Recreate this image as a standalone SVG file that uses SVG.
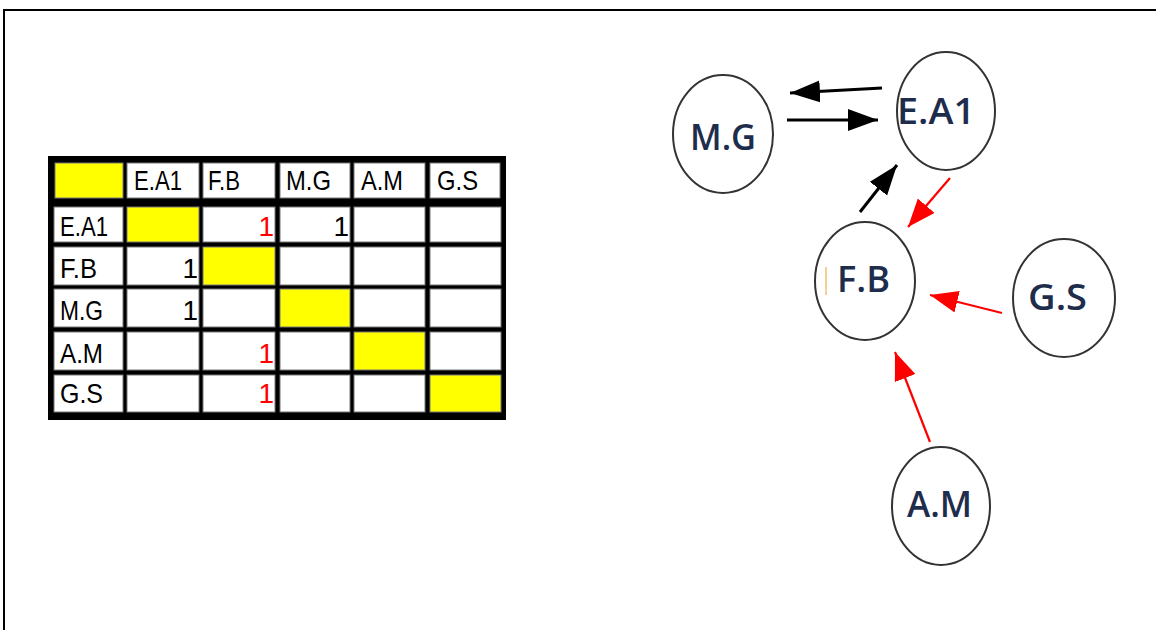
<svg xmlns="http://www.w3.org/2000/svg" width="1156" height="630" viewBox="0 0 1156 630">
<style>
.cell{fill:#ffffff;stroke:#777;stroke-width:1}
.yel{fill:#ffff00;stroke:#777;stroke-width:1}
.tt{font-family:"Liberation Sans",Arial,sans-serif;font-size:28px;fill:#000}
.red{fill:#ff0000}
.node ellipse{fill:#ffffff;stroke:#333;stroke-width:2}
.node text{font-family:"Open Sans","Noto Sans",sans-serif;font-size:36px;font-weight:600;fill:#1f2d4d}
.blk{stroke:#000;stroke-width:3;fill:none}
.rd{stroke:#ff0000;stroke-width:2.2;fill:none}
</style>
<defs>
<marker id="ab" markerUnits="userSpaceOnUse" markerWidth="32" markerHeight="24" refX="30" refY="11" orient="auto"><path d="M0,0 L30,11 L0,22 z" fill="#000"/></marker>
<marker id="ar" markerUnits="userSpaceOnUse" markerWidth="32" markerHeight="24" refX="28" refY="11" orient="auto"><path d="M0,0 L28,11 L0,22 z" fill="#ff0000"/></marker>
</defs>
<rect width="1156" height="630" fill="#fff"/>
<!-- frame -->
<path d="M4,630 V10 H1156" fill="none" stroke="#000" stroke-width="2"/>
<!-- table -->
<g id="table">
<rect x="48" y="156" width="458" height="264" fill="#000"/>
<!-- header row -->
<rect class="yel" x="55" y="163" width="68" height="35"/>
<rect class="cell" x="127" y="163" width="72" height="35"/>
<rect class="cell" x="203" y="163" width="72" height="35"/>
<rect class="cell" x="280" y="163" width="70" height="35"/>
<rect class="cell" x="354" y="163" width="71" height="35"/>
<rect class="cell" x="430" y="163" width="70" height="35"/>
<!-- E.A1 row -->
<rect class="cell" x="54" y="207" width="69" height="35"/>
<rect class="yel" x="127" y="207" width="72" height="35"/>
<rect class="cell" x="203" y="207" width="72" height="35"/>
<rect class="cell" x="280" y="207" width="70" height="35"/>
<rect class="cell" x="354" y="207" width="71" height="35"/>
<rect class="cell" x="430" y="207" width="71" height="35"/>
<!-- F.B row -->
<rect class="cell" x="54" y="247" width="69" height="38"/>
<rect class="cell" x="127" y="247" width="72" height="38"/>
<rect class="yel" x="203" y="247" width="72" height="38"/>
<rect class="cell" x="280" y="247" width="70" height="38"/>
<rect class="cell" x="354" y="247" width="71" height="38"/>
<rect class="cell" x="430" y="247" width="71" height="38"/>
<!-- M.G row -->
<rect class="cell" x="54" y="289" width="69" height="38"/>
<rect class="cell" x="127" y="289" width="72" height="38"/>
<rect class="cell" x="203" y="289" width="72" height="38"/>
<rect class="yel" x="280" y="289" width="70" height="38"/>
<rect class="cell" x="354" y="289" width="71" height="38"/>
<rect class="cell" x="430" y="289" width="71" height="38"/>
<!-- A.M row -->
<rect class="cell" x="54" y="332" width="69" height="38"/>
<rect class="cell" x="127" y="332" width="72" height="38"/>
<rect class="cell" x="203" y="332" width="72" height="38"/>
<rect class="cell" x="280" y="332" width="70" height="38"/>
<rect class="yel" x="354" y="332" width="71" height="38"/>
<rect class="cell" x="430" y="332" width="71" height="38"/>
<!-- G.S row -->
<rect class="cell" x="54" y="375" width="69" height="37"/>
<rect class="cell" x="127" y="375" width="72" height="37"/>
<rect class="cell" x="203" y="375" width="72" height="37"/>
<rect class="cell" x="280" y="375" width="70" height="37"/>
<rect class="cell" x="354" y="375" width="71" height="37"/>
<rect class="yel" x="430" y="375" width="71" height="37"/>
<!-- texts -->
<text class="tt" x="134" y="190" textLength="48" lengthAdjust="spacingAndGlyphs">E.A1</text>
<text class="tt" x="208" y="190" textLength="32" lengthAdjust="spacingAndGlyphs">F.B</text>
<text class="tt" x="286" y="190" textLength="45" lengthAdjust="spacingAndGlyphs">M.G</text>
<text class="tt" x="361" y="190" textLength="42" lengthAdjust="spacingAndGlyphs">A.M</text>
<text class="tt" x="437" y="190" textLength="41" lengthAdjust="spacingAndGlyphs">G.S</text>
<text class="tt" x="60" y="236" textLength="48" lengthAdjust="spacingAndGlyphs">E.A1</text>
<text class="tt" x="60" y="278" textLength="37" lengthAdjust="spacingAndGlyphs">F.B</text>
<text class="tt" x="60" y="320" textLength="43" lengthAdjust="spacingAndGlyphs">M.G</text>
<text class="tt" x="60" y="363" textLength="43" lengthAdjust="spacingAndGlyphs">A.M</text>
<text class="tt" x="60" y="403" textLength="43" lengthAdjust="spacingAndGlyphs">G.S</text>
<text class="tt red" x="274" y="236" text-anchor="end">1</text>
<text class="tt" x="349" y="236" text-anchor="end">1</text>
<text class="tt" x="198" y="278" text-anchor="end">1</text>
<text class="tt" x="198" y="320" text-anchor="end">1</text>
<text class="tt red" x="274" y="363" text-anchor="end">1</text>
<text class="tt red" x="274" y="403" text-anchor="end">1</text>
</g>
<!-- connectors -->
<g id="connectors">
<line class="blk" x1="882" y1="88" x2="790" y2="93" marker-end="url(#ab)"/>
<line class="blk" x1="787" y1="120" x2="878" y2="120" marker-end="url(#ab)"/>
<line class="blk" x1="860" y1="212" x2="897" y2="165" marker-end="url(#ab)"/>
<line class="rd" x1="950" y1="178" x2="908" y2="227" marker-end="url(#ar)"/>
<line class="rd" x1="1002" y1="313" x2="930" y2="295" marker-end="url(#ar)"/>
<line class="rd" x1="930" y1="442" x2="895" y2="352" marker-end="url(#ar)"/>
</g>
<!-- nodes -->
<g id="node-MG" class="node"><ellipse cx="723" cy="134" rx="50" ry="59"/><text x="690" y="150" textLength="66" lengthAdjust="spacingAndGlyphs">M.G</text></g>
<g id="node-EA1" class="node"><ellipse cx="946" cy="111" rx="49" ry="59"/><text x="897" y="124" textLength="78" lengthAdjust="spacingAndGlyphs">E.A1</text></g>
<g id="node-FB" class="node"><ellipse cx="865" cy="281" rx="50" ry="59"/><line x1="826" y1="267" x2="826" y2="295" stroke="#f0c070" stroke-width="1.5"/><text x="837" y="292" textLength="53" lengthAdjust="spacingAndGlyphs">F.B</text></g>
<g id="node-GS" class="node"><ellipse cx="1064" cy="298" rx="51" ry="59"/><text x="1028" y="310" textLength="59" lengthAdjust="spacingAndGlyphs">G.S</text></g>
<g id="node-AM" class="node"><ellipse cx="941" cy="506" rx="49" ry="59"/><text x="907" y="517" textLength="65" lengthAdjust="spacingAndGlyphs">A.M</text></g>
</svg>
